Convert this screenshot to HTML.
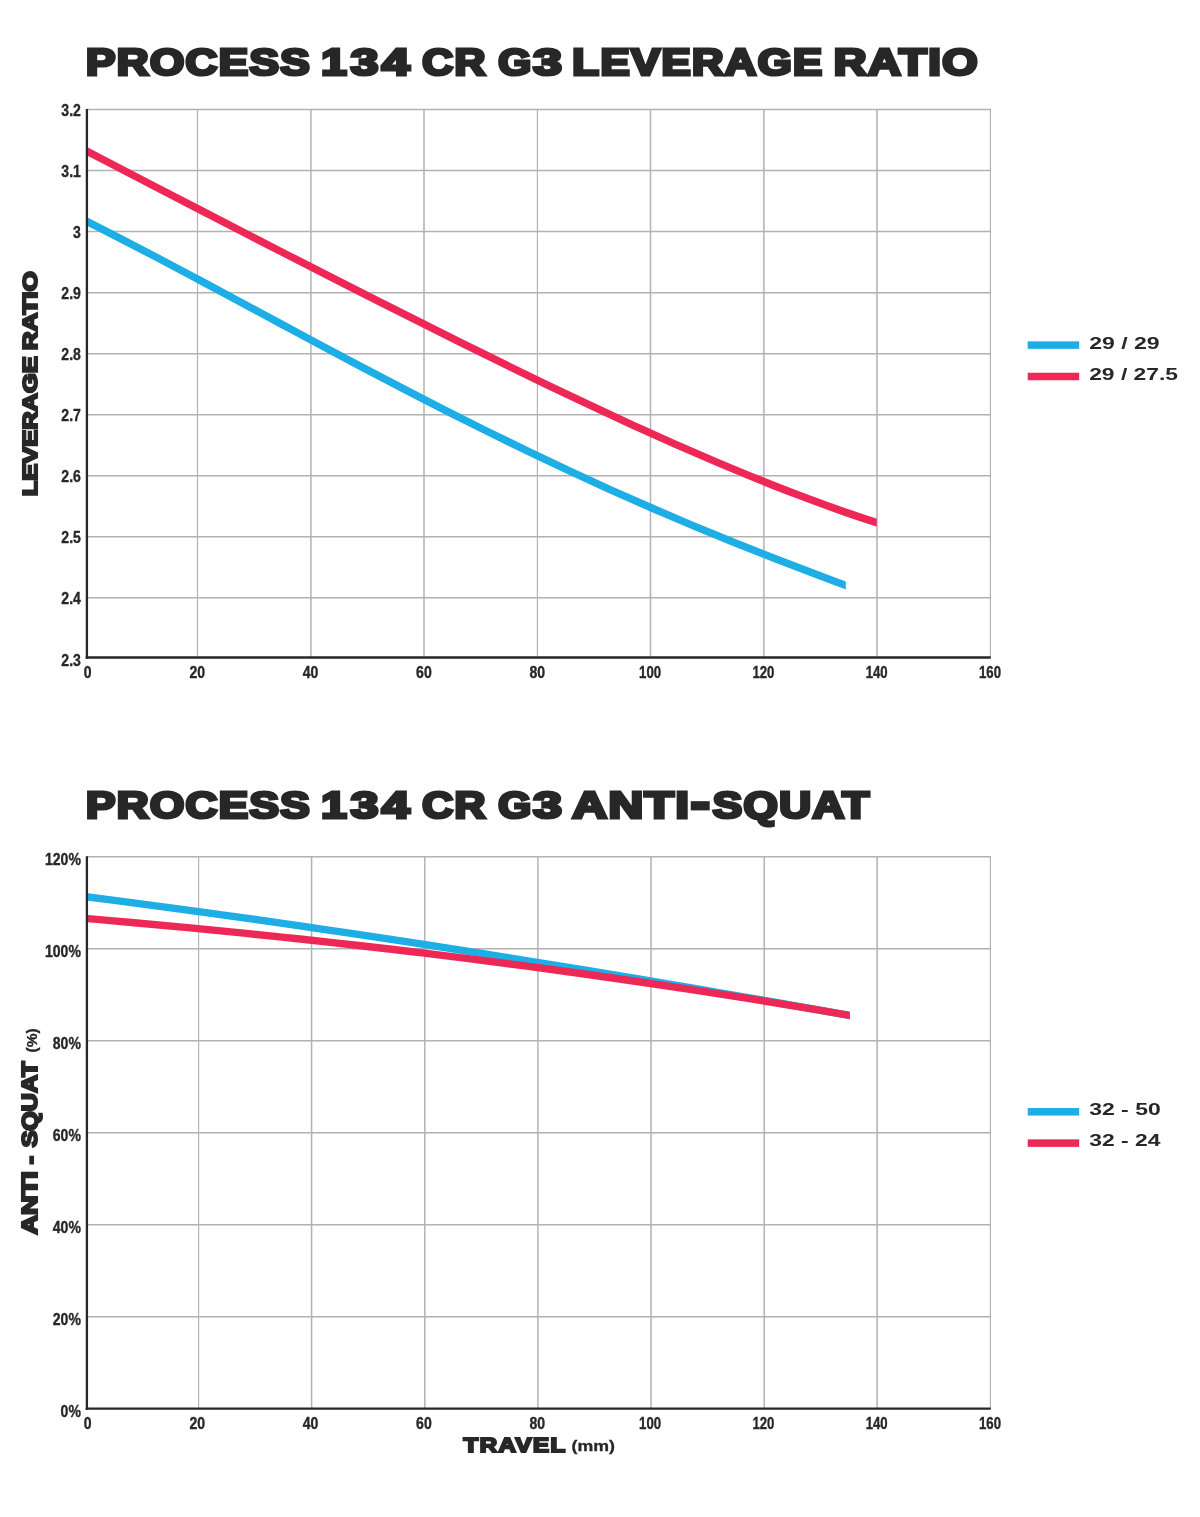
<!DOCTYPE html>
<html lang="en"><head><meta charset="utf-8"><title>Process 134 CR G3 kinematics</title>
<style>html,body{margin:0;padding:0;background:#fff}svg{display:block}text{font-family:"Liberation Sans",sans-serif;font-weight:700;fill:#272727}</style></head><body>
<svg width="1200" height="1517" viewBox="0 0 1200 1517">
<rect width="1200" height="1517" fill="#fff"/>
<g id="leverage-ratio-chart" role="img" aria-label="Process 134 CR G3 leverage ratio versus travel">
<g stroke="#b2b2b2" stroke-width="1.5" fill="none">
<line x1="197.50" y1="109.60" x2="197.50" y2="657.50" stroke-width="1.15"/>
<line x1="310.90" y1="109.60" x2="310.90" y2="657.50"/>
<line x1="424.00" y1="109.60" x2="424.00" y2="657.50"/>
<line x1="537.40" y1="109.60" x2="537.40" y2="657.50" stroke-width="1.15"/>
<line x1="650.50" y1="109.60" x2="650.50" y2="657.50"/>
<line x1="763.90" y1="109.60" x2="763.90" y2="657.50"/>
<line x1="877.00" y1="109.60" x2="877.00" y2="657.50"/>
<line x1="990.40" y1="109.60" x2="990.40" y2="657.50" stroke-width="1.15"/>
<line x1="86.90" y1="109.60" x2="990.90" y2="109.60"/>
<line x1="86.90" y1="170.61" x2="990.90" y2="170.61"/>
<line x1="86.90" y1="231.62" x2="990.90" y2="231.62"/>
<line x1="86.90" y1="292.63" x2="990.90" y2="292.63"/>
<line x1="86.90" y1="353.64" x2="990.90" y2="353.64"/>
<line x1="86.90" y1="414.65" x2="990.90" y2="414.65"/>
<line x1="86.90" y1="475.66" x2="990.90" y2="475.66"/>
<line x1="86.90" y1="536.67" x2="990.90" y2="536.67"/>
<line x1="86.90" y1="597.68" x2="990.90" y2="597.68"/>
</g>
<defs><clipPath id="c1r"><rect x="88" y="100" width="788.70" height="560"/></clipPath><clipPath id="c1b"><rect x="88" y="100" width="757.80" height="560"/></clipPath>
<clipPath id="c2"><rect x="88" y="850" width="761.80" height="560"/></clipPath></defs>
<g fill="none" stroke-width="7.5" stroke-linecap="butt" stroke-linejoin="round">
<path clip-path="url(#c1b)" stroke="#1caee4" d="M75.00,215.37 C81.87,218.85 102.47,229.22 116.20,236.29 C129.93,243.35 143.67,250.55 157.40,257.77 C171.13,265.00 184.87,272.32 198.60,279.65 C212.33,286.97 226.07,294.36 239.80,301.73 C253.53,309.11 267.27,316.51 281.00,323.89 C294.73,331.26 308.47,338.64 322.20,345.96 C335.93,353.29 349.67,360.60 363.40,367.84 C377.13,375.08 390.87,382.28 404.60,389.40 C418.33,396.52 432.07,403.59 445.80,410.56 C459.53,417.54 473.27,424.44 487.00,431.24 C500.73,438.04 514.47,444.76 528.20,451.37 C541.93,457.98 555.67,464.50 569.40,470.90 C583.13,477.31 596.87,483.61 610.60,489.80 C624.33,495.99 638.07,502.07 651.80,508.04 C665.53,514.01 679.27,519.87 693.00,525.62 C706.73,531.37 720.47,537.01 734.20,542.54 C747.93,548.08 761.67,553.51 775.40,558.84 C789.13,564.17 802.87,569.40 816.60,574.54 C830.33,579.69 850.93,587.18 857.80,589.71"/>
<path clip-path="url(#c1r)" stroke="#ee2856" d="M75.00,144.88 C82.14,148.61 103.55,159.84 117.82,167.28 C132.09,174.72 146.37,182.14 160.64,189.54 C174.92,196.94 189.19,204.33 203.46,211.70 C217.74,219.06 232.01,226.42 246.28,233.76 C260.56,241.10 274.83,248.42 289.11,255.73 C303.38,263.03 317.65,270.33 331.93,277.60 C346.20,284.87 360.47,292.12 374.75,299.35 C389.02,306.57 403.29,313.78 417.57,320.94 C431.84,328.11 446.12,335.25 460.39,342.33 C474.66,349.42 488.94,356.48 503.21,363.47 C517.48,370.46 531.76,377.41 546.03,384.27 C560.31,391.14 574.58,397.96 588.85,404.67 C603.13,411.39 617.40,418.03 631.67,424.56 C645.95,431.09 660.22,437.54 674.49,443.85 C688.77,450.15 703.04,456.36 717.32,462.40 C731.59,468.44 745.86,474.36 760.14,480.10 C774.41,485.83 788.68,491.42 802.96,496.79 C817.23,502.17 831.51,507.38 845.78,512.34 C860.05,517.30 881.46,524.19 888.60,526.56"/>
</g>
<g stroke="#272727" stroke-width="2.3" fill="none"><line x1="86.90" y1="109.10" x2="86.90" y2="658.70"/><line x1="85.70" y1="657.50" x2="990.80" y2="657.50"/></g>
<text x="80.90" y="115.60" font-size="15.7" text-anchor="end" textLength="19.53" lengthAdjust="spacingAndGlyphs" stroke="#272727" stroke-width="0.35">3.2</text>
<text x="80.90" y="176.61" font-size="15.7" text-anchor="end" textLength="19.53" lengthAdjust="spacingAndGlyphs" stroke="#272727" stroke-width="0.35">3.1</text>
<text x="80.90" y="237.62" font-size="15.7" text-anchor="end" textLength="7.81" lengthAdjust="spacingAndGlyphs" stroke="#272727" stroke-width="0.35">3</text>
<text x="80.90" y="298.63" font-size="15.7" text-anchor="end" textLength="19.53" lengthAdjust="spacingAndGlyphs" stroke="#272727" stroke-width="0.35">2.9</text>
<text x="80.90" y="359.64" font-size="15.7" text-anchor="end" textLength="19.53" lengthAdjust="spacingAndGlyphs" stroke="#272727" stroke-width="0.35">2.8</text>
<text x="80.90" y="420.65" font-size="15.7" text-anchor="end" textLength="19.53" lengthAdjust="spacingAndGlyphs" stroke="#272727" stroke-width="0.35">2.7</text>
<text x="80.90" y="481.66" font-size="15.7" text-anchor="end" textLength="19.53" lengthAdjust="spacingAndGlyphs" stroke="#272727" stroke-width="0.35">2.6</text>
<text x="80.90" y="542.67" font-size="15.7" text-anchor="end" textLength="19.53" lengthAdjust="spacingAndGlyphs" stroke="#272727" stroke-width="0.35">2.5</text>
<text x="80.90" y="603.68" font-size="15.7" text-anchor="end" textLength="19.53" lengthAdjust="spacingAndGlyphs" stroke="#272727" stroke-width="0.35">2.4</text>
<text x="80.90" y="665.80" font-size="15.7" text-anchor="end" textLength="19.53" lengthAdjust="spacingAndGlyphs" stroke="#272727" stroke-width="0.35">2.3</text>
<text x="87.60" y="677.50" font-size="15.7" text-anchor="middle" textLength="7.81" lengthAdjust="spacingAndGlyphs" stroke="#272727" stroke-width="0.35">0</text>
<text x="197.30" y="677.50" font-size="15.7" text-anchor="middle" textLength="15.63" lengthAdjust="spacingAndGlyphs" stroke="#272727" stroke-width="0.35">20</text>
<text x="310.60" y="677.50" font-size="15.7" text-anchor="middle" textLength="15.63" lengthAdjust="spacingAndGlyphs" stroke="#272727" stroke-width="0.35">40</text>
<text x="423.90" y="677.50" font-size="15.7" text-anchor="middle" textLength="15.63" lengthAdjust="spacingAndGlyphs" stroke="#272727" stroke-width="0.35">60</text>
<text x="537.20" y="677.50" font-size="15.7" text-anchor="middle" textLength="15.63" lengthAdjust="spacingAndGlyphs" stroke="#272727" stroke-width="0.35">80</text>
<text x="650.10" y="677.50" font-size="15.7" text-anchor="middle" textLength="22.03" lengthAdjust="spacingAndGlyphs" stroke="#272727" stroke-width="0.35">100</text>
<text x="763.40" y="677.50" font-size="15.7" text-anchor="middle" textLength="22.03" lengthAdjust="spacingAndGlyphs" stroke="#272727" stroke-width="0.35">120</text>
<text x="876.70" y="677.50" font-size="15.7" text-anchor="middle" textLength="22.03" lengthAdjust="spacingAndGlyphs" stroke="#272727" stroke-width="0.35">140</text>
<text x="990.00" y="677.50" font-size="15.7" text-anchor="middle" textLength="22.03" lengthAdjust="spacingAndGlyphs" stroke="#272727" stroke-width="0.35">160</text>
<text stroke="#272727" stroke-linejoin="miter" paint-order="stroke"><tspan x="85.90" y="75.10" font-size="37.1" textLength="225.20" lengthAdjust="spacingAndGlyphs" stroke-width="3.20" letter-spacing="1.2">PROCESS</tspan> <tspan x="321.34" y="75.10" font-size="37.1" textLength="25.46" lengthAdjust="spacingAndGlyphs" stroke-width="3.20">1</tspan><tspan x="350.70" y="75.10" font-size="37.1" textLength="27.60" lengthAdjust="spacingAndGlyphs" stroke-width="3.20">3</tspan><tspan x="381.66" y="75.10" font-size="37.1" textLength="27.80" lengthAdjust="spacingAndGlyphs" stroke-width="3.20">4</tspan> <tspan x="422.30" y="75.10" font-size="37.1" textLength="64.50" lengthAdjust="spacingAndGlyphs" stroke-width="3.20" letter-spacing="1.2">CR</tspan> <tspan x="498.26" y="75.10" font-size="37.1" textLength="32.90" lengthAdjust="spacingAndGlyphs" stroke-width="3.20">G</tspan><tspan x="533.20" y="75.10" font-size="37.1" textLength="28.54" lengthAdjust="spacingAndGlyphs" stroke-width="3.20">3</tspan> <tspan x="572.36" y="75.10" font-size="37.1" textLength="251.28" lengthAdjust="spacingAndGlyphs" stroke-width="3.20" letter-spacing="1.2">LEVERAGE</tspan> <tspan x="833.86" y="75.10" font-size="37.1" textLength="145.16" lengthAdjust="spacingAndGlyphs" stroke-width="3.20" letter-spacing="1.2">RATIO</tspan></text>
<text transform="translate(36.70,0) rotate(-90)" stroke="#272727" stroke-linejoin="miter" paint-order="stroke"><tspan x="-496.29" y="0.00" font-size="20.7" textLength="140.10" lengthAdjust="spacingAndGlyphs" stroke-width="2.10" stroke-miterlimit="2">LEVERAGE</tspan> <tspan x="-350.21" y="0.00" font-size="20.7" textLength="79.06" lengthAdjust="spacingAndGlyphs" stroke-width="2.10" stroke-miterlimit="2">RATIO</tspan></text>
<rect x="1027.7" y="341.35" width="51.5" height="7.5" fill="#1caee4"/>
<rect x="1027.7" y="372.75" width="51.5" height="7.5" fill="#ee2856"/>
<text x="1089.2" y="349.00" font-size="15.8" textLength="70.50" lengthAdjust="spacingAndGlyphs">29 / 29</text>
<text x="1089.2" y="380.20" font-size="15.8" textLength="88.80" lengthAdjust="spacingAndGlyphs">29 / 27.5</text>
</g>
<g id="anti-squat-chart" role="img" aria-label="Process 134 CR G3 anti-squat versus travel">
<g stroke="#b2b2b2" stroke-width="1.5" fill="none">
<line x1="198.60" y1="856.70" x2="198.60" y2="1408.70" stroke-width="1.15"/>
<line x1="311.60" y1="856.70" x2="311.60" y2="1408.70"/>
<line x1="424.80" y1="856.70" x2="424.80" y2="1408.70"/>
<line x1="537.90" y1="856.70" x2="537.90" y2="1408.70"/>
<line x1="651.00" y1="856.70" x2="651.00" y2="1408.70"/>
<line x1="764.20" y1="856.70" x2="764.20" y2="1408.70"/>
<line x1="877.10" y1="856.70" x2="877.10" y2="1408.70"/>
<line x1="990.40" y1="856.70" x2="990.40" y2="1408.70" stroke-width="1.15"/>
<line x1="86.90" y1="856.70" x2="990.90" y2="856.70"/>
<line x1="86.90" y1="948.70" x2="990.90" y2="948.70"/>
<line x1="86.90" y1="1040.70" x2="990.90" y2="1040.70"/>
<line x1="86.90" y1="1132.70" x2="990.90" y2="1132.70"/>
<line x1="86.90" y1="1224.70" x2="990.90" y2="1224.70"/>
<line x1="86.90" y1="1316.70" x2="990.90" y2="1316.70"/>
</g>
<g fill="none" stroke-width="7.4" stroke-linecap="butt" clip-path="url(#c2)">
<path stroke="#1caee4" d="M75.30,895.43 C84.66,896.63 112.75,900.18 131.48,902.63 C150.20,905.07 168.93,907.57 187.66,910.11 C206.38,912.65 225.11,915.24 243.84,917.86 C262.56,920.49 281.29,923.17 300.01,925.88 C318.74,928.59 337.47,931.35 356.19,934.14 C374.92,936.94 393.65,939.77 412.37,942.64 C431.10,945.51 449.82,948.42 468.55,951.36 C487.28,954.30 506.00,957.28 524.73,960.29 C543.45,963.30 562.18,966.34 580.91,969.41 C599.63,972.49 618.36,975.59 637.09,978.72 C655.81,981.85 674.54,985.01 693.26,988.20 C711.99,991.38 730.72,994.60 749.44,997.83 C768.17,1001.07 786.90,1004.33 805.62,1007.62 C824.35,1010.90 852.44,1015.88 861.80,1017.53"/>
<path stroke="#ee2856" d="M75.30,917.55 C84.66,918.37 112.75,920.76 131.48,922.45 C150.20,924.13 168.93,925.87 187.66,927.66 C206.38,929.44 225.11,931.29 243.84,933.18 C262.56,935.08 281.29,937.03 300.01,939.03 C318.74,941.04 337.47,943.10 356.19,945.22 C374.92,947.34 393.65,949.52 412.37,951.75 C431.10,953.99 449.82,956.28 468.55,958.64 C487.28,960.99 506.00,963.41 524.73,965.88 C543.45,968.36 562.18,970.90 580.91,973.50 C599.63,976.10 618.36,978.77 637.09,981.50 C655.81,984.23 674.54,987.02 693.26,989.88 C711.99,992.74 730.72,995.66 749.44,998.66 C768.17,1001.65 786.90,1004.71 805.62,1007.84 C824.35,1010.97 852.44,1015.84 861.80,1017.44"/>
</g>
<g stroke="#272727" stroke-width="2.3" fill="none"><line x1="86.90" y1="856.20" x2="86.90" y2="1409.90"/><line x1="85.70" y1="1408.70" x2="990.80" y2="1408.70"/></g>
<text x="80.90" y="865.10" font-size="15.7" text-anchor="end" textLength="35.93" lengthAdjust="spacingAndGlyphs" stroke="#272727" stroke-width="0.35">120%</text>
<text x="80.90" y="957.10" font-size="15.7" text-anchor="end" textLength="35.93" lengthAdjust="spacingAndGlyphs" stroke="#272727" stroke-width="0.35">100%</text>
<text x="80.90" y="1049.10" font-size="15.7" text-anchor="end" textLength="28.12" lengthAdjust="spacingAndGlyphs" stroke="#272727" stroke-width="0.35">80%</text>
<text x="80.90" y="1141.10" font-size="15.7" text-anchor="end" textLength="28.12" lengthAdjust="spacingAndGlyphs" stroke="#272727" stroke-width="0.35">60%</text>
<text x="80.90" y="1233.10" font-size="15.7" text-anchor="end" textLength="28.12" lengthAdjust="spacingAndGlyphs" stroke="#272727" stroke-width="0.35">40%</text>
<text x="80.90" y="1325.10" font-size="15.7" text-anchor="end" textLength="28.12" lengthAdjust="spacingAndGlyphs" stroke="#272727" stroke-width="0.35">20%</text>
<text x="80.90" y="1417.10" font-size="15.7" text-anchor="end" textLength="20.30" lengthAdjust="spacingAndGlyphs" stroke="#272727" stroke-width="0.35">0%</text>
<text x="87.60" y="1428.50" font-size="15.7" text-anchor="middle" textLength="7.81" lengthAdjust="spacingAndGlyphs" stroke="#272727" stroke-width="0.35">0</text>
<text x="197.30" y="1428.50" font-size="15.7" text-anchor="middle" textLength="15.63" lengthAdjust="spacingAndGlyphs" stroke="#272727" stroke-width="0.35">20</text>
<text x="310.60" y="1428.50" font-size="15.7" text-anchor="middle" textLength="15.63" lengthAdjust="spacingAndGlyphs" stroke="#272727" stroke-width="0.35">40</text>
<text x="423.90" y="1428.50" font-size="15.7" text-anchor="middle" textLength="15.63" lengthAdjust="spacingAndGlyphs" stroke="#272727" stroke-width="0.35">60</text>
<text x="537.20" y="1428.50" font-size="15.7" text-anchor="middle" textLength="15.63" lengthAdjust="spacingAndGlyphs" stroke="#272727" stroke-width="0.35">80</text>
<text x="650.10" y="1428.50" font-size="15.7" text-anchor="middle" textLength="22.03" lengthAdjust="spacingAndGlyphs" stroke="#272727" stroke-width="0.35">100</text>
<text x="763.40" y="1428.50" font-size="15.7" text-anchor="middle" textLength="22.03" lengthAdjust="spacingAndGlyphs" stroke="#272727" stroke-width="0.35">120</text>
<text x="876.70" y="1428.50" font-size="15.7" text-anchor="middle" textLength="22.03" lengthAdjust="spacingAndGlyphs" stroke="#272727" stroke-width="0.35">140</text>
<text x="990.00" y="1428.50" font-size="15.7" text-anchor="middle" textLength="22.03" lengthAdjust="spacingAndGlyphs" stroke="#272727" stroke-width="0.35">160</text>
<text stroke="#272727" stroke-linejoin="miter" paint-order="stroke"><tspan x="85.90" y="818.10" font-size="37.1" textLength="225.20" lengthAdjust="spacingAndGlyphs" stroke-width="3.20" letter-spacing="1.2">PROCESS</tspan> <tspan x="321.34" y="818.10" font-size="37.1" textLength="25.46" lengthAdjust="spacingAndGlyphs" stroke-width="3.20">1</tspan><tspan x="350.70" y="818.10" font-size="37.1" textLength="27.60" lengthAdjust="spacingAndGlyphs" stroke-width="3.20">3</tspan><tspan x="381.66" y="818.10" font-size="37.1" textLength="27.80" lengthAdjust="spacingAndGlyphs" stroke-width="3.20">4</tspan> <tspan x="422.30" y="818.10" font-size="37.1" textLength="64.50" lengthAdjust="spacingAndGlyphs" stroke-width="3.20" letter-spacing="1.2">CR</tspan> <tspan x="498.26" y="818.10" font-size="37.1" textLength="32.90" lengthAdjust="spacingAndGlyphs" stroke-width="3.20">G</tspan><tspan x="533.20" y="818.10" font-size="37.1" textLength="28.54" lengthAdjust="spacingAndGlyphs" stroke-width="3.20">3</tspan> <tspan x="572.18" y="818.10" font-size="37.1" textLength="118.22" lengthAdjust="spacingAndGlyphs" stroke-width="3.20" letter-spacing="1.2">ANTI</tspan><tspan x="692.00" y="814.70" font-size="37.1" textLength="16.50" lengthAdjust="spacingAndGlyphs" stroke-width="4.80">-</tspan><tspan x="712.70" y="818.10" font-size="37.1" textLength="158.02" lengthAdjust="spacingAndGlyphs" stroke-width="3.20" letter-spacing="1.2">SQUAT</tspan></text>
<text transform="translate(36.95,0) rotate(-90)" stroke="#272727" stroke-linejoin="miter" paint-order="stroke"><tspan x="-1234.45" y="0.00" font-size="21.7" textLength="63.18" lengthAdjust="spacingAndGlyphs" stroke-width="2.10" stroke-miterlimit="2">ANTI</tspan> <tspan x="-1164.33" y="0.00" font-size="21.7" textLength="8.22" lengthAdjust="spacingAndGlyphs" stroke-width="2.10" stroke-miterlimit="2">-</tspan> <tspan x="-1147.37" y="0.00" font-size="21.7" textLength="85.84" lengthAdjust="spacingAndGlyphs" stroke-width="2.10" stroke-miterlimit="2">SQUAT</tspan> <tspan x="-1052.40" y="0.05" font-size="14.0" textLength="24.20" lengthAdjust="spacingAndGlyphs" stroke-width="0.30">(%)</tspan></text>
<text stroke="#272727" stroke-linejoin="miter" paint-order="stroke"><tspan x="463.50" y="1451.90" font-size="19.5" textLength="103.28" lengthAdjust="spacingAndGlyphs" stroke-width="2.00" letter-spacing="1.2">TRAVEL</tspan> <tspan x="571.60" y="1451.00" font-size="14.2" textLength="43.40" lengthAdjust="spacingAndGlyphs" stroke-width="0.30">(mm)</tspan></text>
<rect x="1027.7" y="1108.05" width="51.5" height="7.5" fill="#1caee4"/>
<rect x="1027.7" y="1139.35" width="51.5" height="7.5" fill="#ee2856"/>
<text x="1089.2" y="1115.40" font-size="15.8" textLength="71.50" lengthAdjust="spacingAndGlyphs">32 - 50</text>
<text x="1089.2" y="1146.40" font-size="15.8" textLength="71.20" lengthAdjust="spacingAndGlyphs">32 - 24</text>
</g>
</svg></body></html>
